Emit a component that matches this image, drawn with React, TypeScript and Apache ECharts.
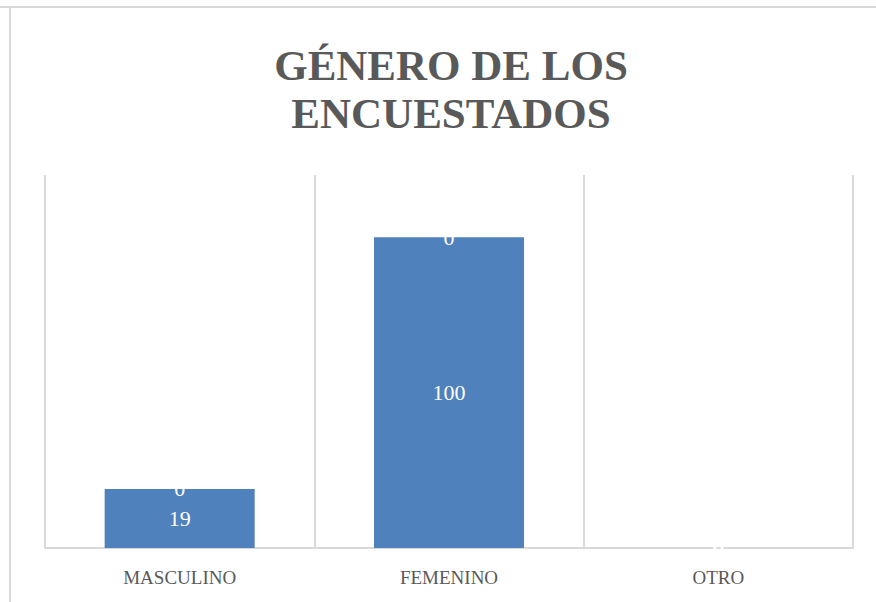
import React, { useEffect, useRef } from "react";
import * as echarts from "echarts";

const categories = ["MASCULINO", "FEMENINO", "OTRO"];
const mainValues = [19, 100, 0];
const topValues = [0, 0, 0];
const titleText = "GÉNERO DE LOS\nENCUESTADOS";

export default function App() {
  const ref = useRef<HTMLDivElement>(null);
  useEffect(() => {
    if (!ref.current) return;
    const chart = echarts.init(ref.current, undefined, { renderer: "svg" });
    const serif = "'Liberation Serif', 'DejaVu Serif', serif";
    chart.setOption({
      animation: false,
      backgroundColor: "#ffffff",
      title: {
        text: titleText,
        left: 446,
        textAlign: "center",
        top: 36,
        textStyle: {
          fontFamily: serif,
          fontWeight: "bold",
          fontSize: 43,
          lineHeight: 48,
          color: "#595959",
        },
      },
      graphic: [
        { type: "line", shape: { x1: 0, y1: 7, x2: 876, y2: 7 }, style: { stroke: "#d9d9d9", lineWidth: 2 } },
        { type: "line", shape: { x1: 10, y1: 7, x2: 10, y2: 602 }, style: { stroke: "#d9d9d9", lineWidth: 2 } },
      ],
      grid: { left: 45, right: 23, top: 175, bottom: 54 },
      xAxis: {
        type: "category",
        data: categories,
        boundaryGap: true,
        axisLine: { show: true, lineStyle: { color: "#d9d9d9", width: 2 } },
        axisTick: { show: false },
        splitLine: { show: true, lineStyle: { color: "#d9d9d9", width: 2 } },
        axisLabel: { fontFamily: serif, fontSize: 19, color: "#595959", margin: 20 },
      },
      yAxis: {
        type: "value",
        min: 0,
        max: 120,
        show: false,
        splitLine: { show: false },
      },
      series: [
        {
          type: "bar",
          stack: "g",
          data: mainValues,
          barWidth: "55.7%",
          itemStyle: { color: "#4f81bd" },
          label: { show: true, position: "inside", color: "#ffffff", fontFamily: serif, fontSize: 22 },
        },
        {
          type: "bar",
          stack: "g",
          data: topValues,
          barWidth: "55.7%",
          itemStyle: { color: "#4f81bd" },
          label: { show: true, position: "inside", color: "#ffffff", fontFamily: serif, fontSize: 22 },
        },
      ],
    });
    return () => chart.dispose();
  }, []);
  return <div ref={ref} style={{ width: 876, height: 602, position: "absolute", left: 0, top: 0 }} />;
}
